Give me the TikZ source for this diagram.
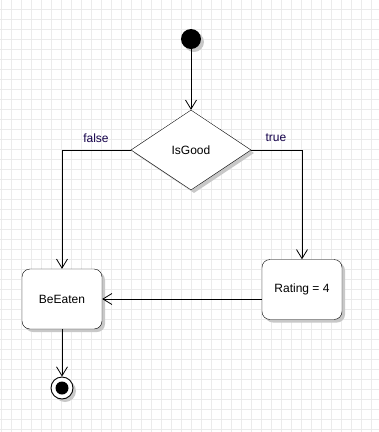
\documentclass[tikz,border=0pt]{standalone}
\usepackage{fontspec}
\setmainfont{Liberation Sans}
\usetikzlibrary{shapes.geometric,arrows.meta,shadows}
\definecolor{gridc}{HTML}{EBEBEB}
\definecolor{shad}{HTML}{C8C8C8}
\definecolor{lbl}{HTML}{14004A}
\tikzset{
  shd/.style={general shadow={shadow xshift=3pt,shadow yshift=-3pt,fill=shad}},
  actbox/.style={draw=black,fill=white,rounded corners=8pt,minimum width=80pt,minimum height=60pt,inner sep=0pt,font=\fontsize{12}{14}\selectfont,shd},
  decis/.style={draw=black,fill=white,diamond,minimum width=120pt,minimum height=80pt,inner sep=0pt,aspect=1.5,font=\fontsize{12}{14}\selectfont,shd},
  startnode/.style={circle,fill=black,minimum size=20pt,inner sep=0pt,shd},
  flow/.style={draw=black,line width=0.8pt,-{Straight Barb[length=9pt,width=11pt,line width=0.8pt]}},
  guard/.style={font=\fontsize{12}{14}\selectfont,text=lbl,inner sep=0pt}
}
\begin{document}
\begin{tikzpicture}[x=1pt,y=-1pt]
\useasboundingbox (0,0) rectangle (379,432);
\fill[white] (0,0) rectangle (379,432);
\foreach \x in {1,11,...,371} \draw[gridc,line width=0.8pt] (\x,0) -- (\x,432);
\foreach \y in {9,19,...,429} \draw[gridc,line width=0.8pt] (0,\y) -- (379,\y);
\node[startnode] (start) at (191,39) {};
\node[decis] (dec) at (191,150) {IsGood};
\node[actbox] (eat) at (62,299) {BeEaten};
\node[actbox] (rate) at (302,289.5) {Rating = 4};
\node[circle,draw=black,line width=0.9pt,fill=white,minimum size=22pt,inner sep=0pt,shd] (endn) at (62,388) {};
\node[circle,fill=black,minimum size=13pt,inner sep=0pt] (endin) at (endn.center) {};
\draw[flow] (start) -- (dec.north);
\draw[flow] (dec.west) -| (eat.north);
\draw[flow] (dec.east) -| (rate.north);
\draw[flow] (eat.east -| rate.west) -- (eat.east);
\draw[flow] (eat.south) -- (endn.north);
\node[guard] (lf) at (96,138) {false};
\node[guard] (lt) at (276,138) {true};
\end{tikzpicture}
\end{document}
